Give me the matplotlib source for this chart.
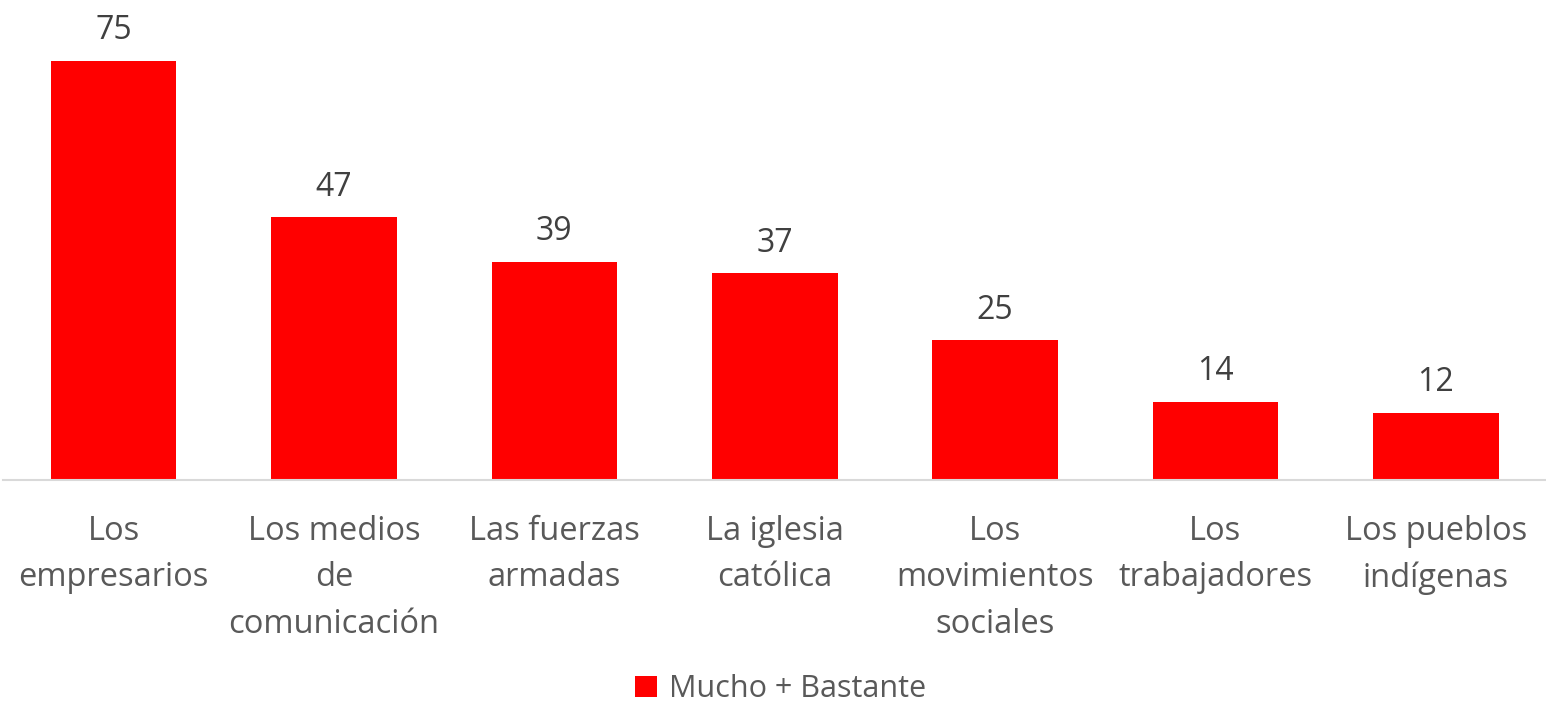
import matplotlib.pyplot as plt

categorias = ["Los\nempresarios", "Los medios\nde\ncomunicación", "Las fuerzas\narmadas",
              "La iglesia\ncatólica", "Los\nmovimientos\nsociales", "Los\ntrabajadores",
              "Los pueblos\nindígenas"]
valores = [75, 47, 39, 37, 25, 14, 12]
serie = "Mucho + Bastante"

plt.rcParams['font.family'] = ['Open Sans', 'DejaVu Sans']

fig = plt.figure(figsize=(15.46, 7.07), dpi=100)
ax = fig.add_axes([3.4 / 1546, 227 / 707, 1 - 3.4 / 1546, 80 * 5.59 / 707])

x = range(len(valores))
bars = ax.bar(x, valores, width=0.57, color='#ff0000', label=serie)
ax.set_xlim(-0.5, len(valores) - 0.5)
ax.set_ylim(0, 80)

for b, v in zip(bars, valores):
    ax.annotate(str(v), (b.get_x() + b.get_width() / 2, v), xytext=(0, 15.5),
                textcoords='offset points', ha='center', va='baseline',
                fontsize=23, color='#404040')

ax.set_xticks(list(x))
ax.set_xticklabels(categorias, fontsize=23.5, color='#595959', linespacing=1.54)
ax.tick_params(axis='x', length=0, pad=25)
ax.set_yticks([])
for s in ['top', 'right', 'left']:
    ax.spines[s].set_visible(False)
ax.spines['bottom'].set_color('#d9d9d9')
ax.spines['bottom'].set_linewidth(1.5)

fig.legend(loc='lower center', bbox_to_anchor=(0.505, -0.035), frameon=False,
           fontsize=22, handlelength=0.7, handleheight=0.7, handletextpad=0.4,
           labelcolor='#595959')

fig.savefig('out.png', dpi=100)
